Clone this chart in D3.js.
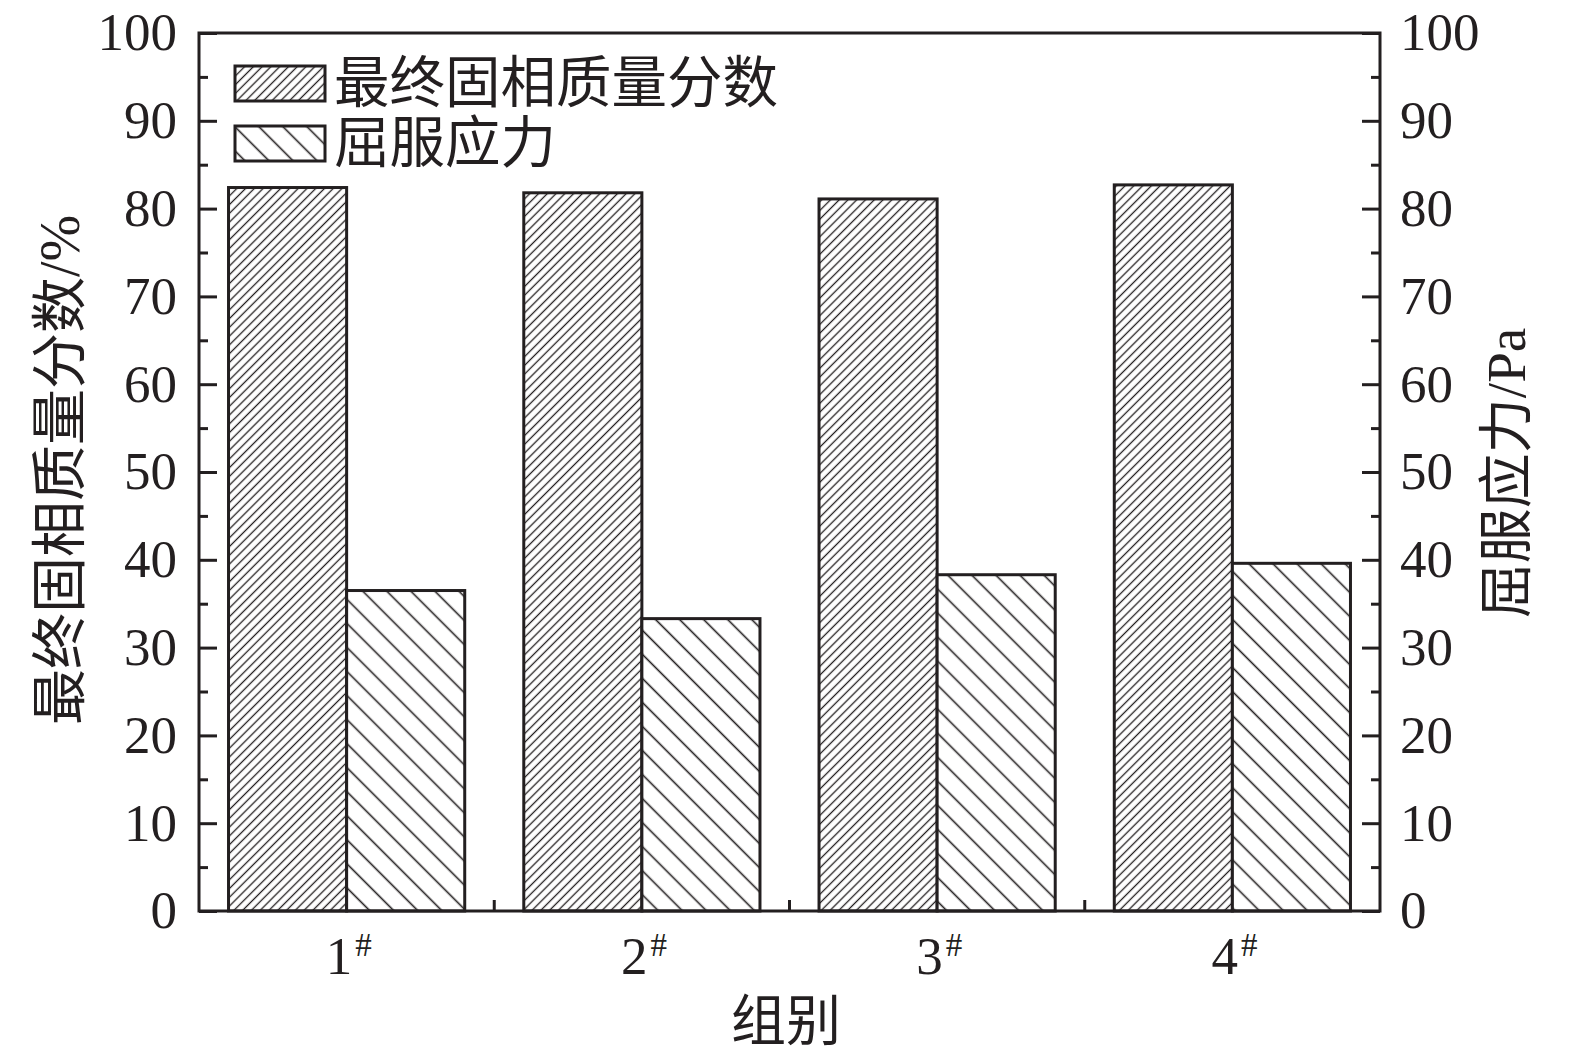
<!DOCTYPE html>
<html>
<head>
<meta charset="utf-8">
<script src="https://cdn.jsdelivr.net/npm/d3@7"></script>
<style>
  html, body { margin: 0; padding: 0; background: #fff; }
  svg { display: block; }
  text { font-family: "Liberation Serif", "Noto Sans CJK SC", serif; fill: #231f20; }
</style>
</head>
<body>
<svg id="chart" width="1575" height="1063"></svg>
<script>
// ---- data ----
const categories = ["1", "2", "3", "4"];
const solidFraction = [82.4, 81.8, 81.1, 82.7];   // 最终固相质量分数 / %
const yieldStress = [36.5, 33.3, 38.3, 39.6];     // 屈服应力 / Pa
const yMajorTicks = [0, 10, 20, 30, 40, 50, 60, 70, 80, 90, 100];
const yMinorTicks = [5, 15, 25, 35, 45, 55, 65, 75, 85, 95];
const seriesNames = ["最终固相质量分数", "屈服应力"];

const ink = "#231f20";
const svg = d3.select("#chart");
const L = 199, R = 1380, T = 33, B = 911;

// patterns
const defs = svg.append("defs");
function hatch(id, spacing, angle, sw) {
  const p = defs.append("pattern").attr("id", id)
    .attr("patternUnits", "userSpaceOnUse")
    .attr("width", spacing).attr("height", spacing)
    .attr("patternTransform", `rotate(${angle})`);
  p.append("rect").attr("width", spacing).attr("height", spacing).attr("fill", "#fff");
  p.append("line").attr("x1", spacing / 2).attr("y1", -1).attr("x2", spacing / 2).attr("y2", spacing + 1)
    .attr("stroke", ink).attr("stroke-width", sw);
}
hatch("dense", 6.2, 45, 1.3);
hatch("sparse", 17, -45, 1.6);
const fills = ["url(#dense)", "url(#sparse)"];

const x = d3.scaleBand().domain(categories).range([L, R]).paddingInner(0.2).paddingOuter(0.1);
const y = d3.scaleLinear().domain([0, 100]).range([B, T]);
const yR = d3.scaleLinear().domain([0, 100]).range([B, T]);
const half = x.bandwidth() / 2;

// bars
const series = [solidFraction, yieldStress];
series.forEach((vals, si) => {
  svg.append("g").selectAll("rect").data(categories).join("rect")
    .attr("x", (d) => x(d) + si * half)
    .attr("y", (d, i) => y(vals[i]))
    .attr("width", half)
    .attr("height", (d, i) => B - y(vals[i]))
    .attr("fill", fills[si])
    .attr("stroke", ink).attr("stroke-width", 3);
});

// axes
const fontTick = 53;
function styleAxis(g) {
  g.select(".domain").remove();
  g.selectAll(".tick line").attr("stroke", ink).attr("stroke-width", 3);
  g.selectAll(".tick text").attr("font-size", fontTick).attr("fill", ink)
    .attr("font-family", "Liberation Serif, serif");
}
svg.append("g").attr("transform", `translate(${L},0)`)
  .call(d3.axisLeft(y).tickValues(yMajorTicks).tickSize(-18).tickPadding(22).tickFormat(d3.format("d")))
  .call(styleAxis);
svg.append("g").attr("transform", `translate(${L},0)`)
  .call(d3.axisLeft(y).tickValues(yMinorTicks).tickSize(-9).tickFormat(""))
  .call(styleAxis);
svg.append("g").attr("transform", `translate(${R},0)`)
  .call(d3.axisRight(yR).tickValues(yMajorTicks).tickSize(-18).tickPadding(20).tickFormat(d3.format("d")))
  .call(styleAxis);
svg.append("g").attr("transform", `translate(${R},0)`)
  .call(d3.axisRight(yR).tickValues(yMinorTicks).tickSize(-9).tickFormat(""))
  .call(styleAxis);

// bottom minor ticks at group boundaries
const boundaries = categories.slice(1).map((c) => x(c) - x.step() * x.paddingInner() / 2);
svg.append("g").selectAll("line").data(boundaries).join("line")
  .attr("x1", (d) => d).attr("x2", (d) => d)
  .attr("y1", B).attr("y2", B - 11)
  .attr("stroke", ink).attr("stroke-width", 3);

// frame
svg.append("rect").attr("x", L).attr("y", T).attr("width", R - L).attr("height", B - T)
  .attr("fill", "none").attr("stroke", ink).attr("stroke-width", 3);

// category labels
const catLabels = svg.append("g").selectAll("text").data(categories).join("text")
  .attr("x", (d) => x(d) + half + 2)
  .attr("y", 974)
  .attr("text-anchor", "middle")
  .attr("font-size", fontTick);
catLabels.append("tspan").text((d) => d);
catLabels.append("tspan").attr("font-size", 33).attr("dx", 3).attr("dy", -18).text("#");

// axis titles
svg.append("text").attr("x", 786).attr("y", 1040).attr("text-anchor", "middle")
  .attr("font-size", 55).text("组别");
svg.append("text").attr("transform", "translate(60,470) rotate(-90)")
  .attr("text-anchor", "middle").attr("dominant-baseline", "central")
  .attr("font-size", 56).text("最终固相质量分数/%");
svg.append("text").attr("transform", "translate(1506,473) rotate(-90)")
  .attr("text-anchor", "middle").attr("dominant-baseline", "central")
  .attr("font-size", 55).text("屈服应力/Pa");

// legend
const legend = svg.append("g");
seriesNames.forEach((name, i) => {
  const yy = 66 + i * 60;
  legend.append("rect").attr("x", 235).attr("y", yy).attr("width", 90).attr("height", 35)
    .attr("fill", fills[i]).attr("stroke", ink).attr("stroke-width", 3);
  legend.append("text").attr("x", 334).attr("y", yy + 17).attr("dominant-baseline", "central")
    .attr("font-size", 55.5).text(name);
});
</script>
</body>
</html>
